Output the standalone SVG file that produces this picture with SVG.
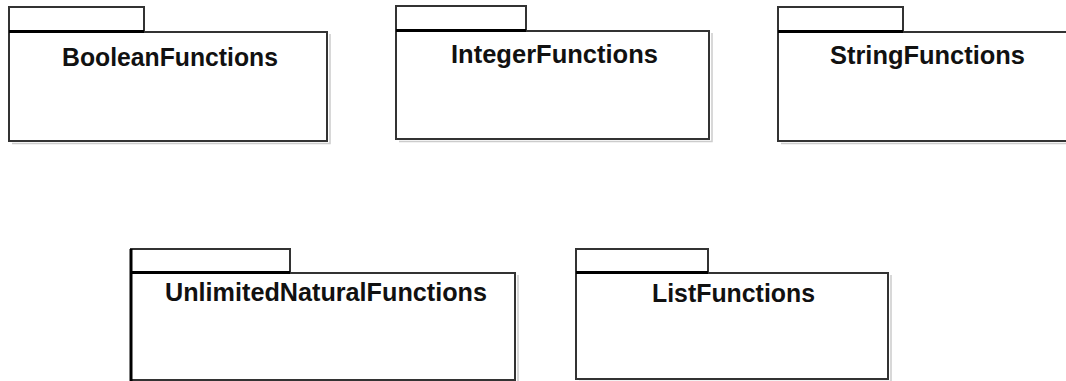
<svg xmlns="http://www.w3.org/2000/svg" width="1066" height="381" viewBox="0 0 1066 381">
<style>
.tab{fill:#fff;stroke:#333;stroke-width:2}
.body{fill:#fff;stroke:#333;stroke-width:2}
.shadow{fill:none;stroke:#ccc;stroke-width:1.5}
.sep{stroke:#000;stroke-width:3}
.lbl{font-family:"Liberation Sans",Arial,sans-serif;font-weight:bold;font-size:25px;fill:#111;text-anchor:middle}
</style>
<rect width="1066" height="381" fill="#fff"/>
<g id="BooleanFunctions">
<polyline class="shadow" points="330,34 330,143.5 12,143.5"/>
<rect class="tab" x="9" y="7" width="135" height="25"/>
<rect class="body" x="9" y="32" width="318" height="109"/>
<line class="sep" x1="9" y1="31.5" x2="144" y2="31.5"/>
<text class="lbl" x="170" y="66" textLength="216" lengthAdjust="spacingAndGlyphs">BooleanFunctions</text>
</g>
<g id="IntegerFunctions">
<polyline class="shadow" points="712,33 712,141.5 399,141.5"/>
<rect class="tab" x="396" y="6" width="130" height="25"/>
<rect class="body" x="396" y="31" width="313" height="108"/>
<line class="sep" x1="396" y1="30.5" x2="526" y2="30.5"/>
<text class="lbl" x="554.5" y="63" textLength="207" lengthAdjust="spacingAndGlyphs">IntegerFunctions</text>
</g>
<g id="StringFunctions">
<polyline class="shadow" points="781,143.5 1070,143.5"/>
<rect class="tab" x="778" y="7" width="125" height="25"/>
<rect class="body" x="778" y="32" width="300" height="109"/>
<line class="sep" x1="778" y1="31.5" x2="903" y2="31.5"/>
<text class="lbl" x="927.5" y="64" textLength="195" lengthAdjust="spacingAndGlyphs">StringFunctions</text>
</g>
<g id="UnlimitedNaturalFunctions">
<polyline class="shadow" points="518,275 518,383"/>
<rect class="tab" x="131" y="249" width="159" height="24"/>
<rect class="body" x="131" y="273" width="384" height="107"/>
<line class="sep" x1="131" y1="272.5" x2="290" y2="272.5"/>
<line x1="131" y1="249" x2="131" y2="381" stroke="#000" stroke-width="3"/>
<text class="lbl" x="326" y="301" textLength="322" lengthAdjust="spacingAndGlyphs">UnlimitedNaturalFunctions</text>
</g>
<g id="ListFunctions">
<polyline class="shadow" points="891,275 891,381.5 579,381.5"/>
<rect class="tab" x="576" y="249" width="132" height="24"/>
<rect class="body" x="576" y="273" width="312" height="106"/>
<line class="sep" x1="576" y1="272.5" x2="708" y2="272.5"/>
<text class="lbl" x="733.5" y="302" textLength="163" lengthAdjust="spacingAndGlyphs">ListFunctions</text>
</g>
<g id="connectors"></g>
</svg>
